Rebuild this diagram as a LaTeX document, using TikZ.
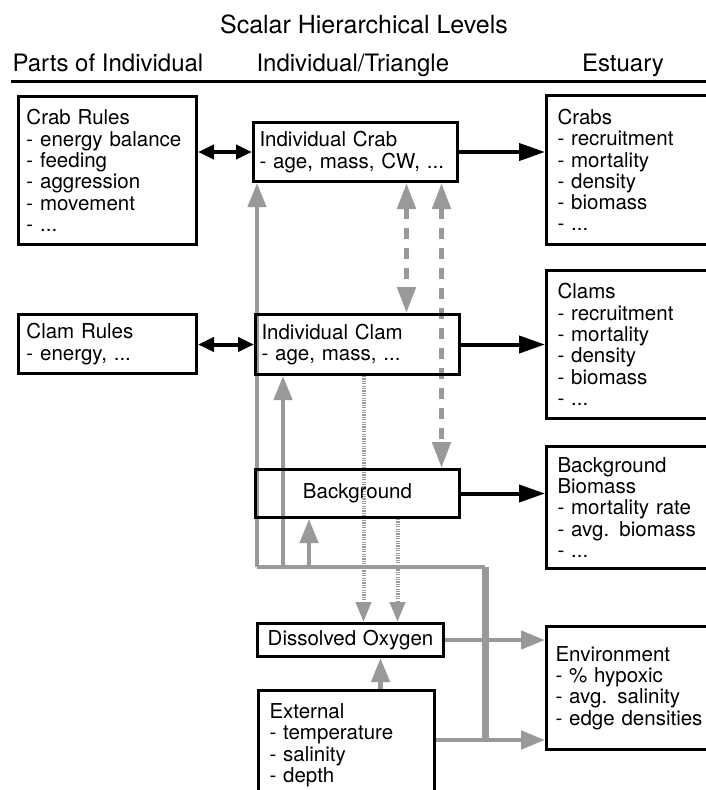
\documentclass[tikz,border=0pt]{standalone}
\usepackage{fontspec}
\setmainfont{TeX Gyre Heros}
\usetikzlibrary{arrows.meta,backgrounds}
\definecolor{linegray}{gray}{0.6}
\newcommand\bodysize{\fontsize{20.5pt}{21.3pt}\selectfont}
\newcommand\headsize{\fontsize{24pt}{26pt}\selectfont}
\tikzset{
  box/.style n args={3}{draw,line width=3pt,anchor=north west,align=left,font=\bodysize,
    inner ysep=0pt,text width=#1,inner xsep=#2,minimum height=#3},
  head/.style={font=\headsize,anchor=base},
  blk/.style={line width=4pt,-{Triangle[length=26pt,width=17pt]}},
  blkdbl/.style={line width=4pt,{Triangle[length=16pt,width=14pt]}-{Triangle[length=16pt,width=14pt]}},
  gry/.style={linegray,line width=4.5pt,-{Triangle[length=24pt,width=18pt]}},
  grybus/.style={linegray,line width=4.5pt},
  grydash/.style={linegray,line width=5pt,dash pattern=on 11pt off 9pt,
    {Triangle[length=26pt,width=18pt]}-{Triangle[length=26pt,width=18pt]}},
  grydot/.style={linegray,line width=4pt,dash pattern=on 1.2pt off 1.2pt,-{Triangle[length=20pt,width=15pt]}}
}
\begin{document}
\begin{tikzpicture}[x=1pt,y=-1pt]
\useasboundingbox (0,0) rectangle (706,790);
\node[head,font=\fontsize{25pt}{27pt}\selectfont] (title) at (364,33) {Scalar Hierarchical Levels};
\node[head,anchor=base west] (hparts) at (9,71) {Parts of Individual};
\node[head,anchor=base west] (hindiv) at (253,71) {Individual/Triangle};
\node[head] (hestuary) at (623,71) {Estuary};
\coordinate (rulel) at (11,81);
\coordinate (ruler) at (706,81);
\draw[line width=3pt] (rulel) -- (ruler);
\node[box={162pt}{8pt}{148pt}] (crabrules) at (17,95) {Crab Rules\\- energy balance\\- feeding\\- aggression\\- movement\\- ...};
\node[box={162pt}{8pt}{59pt}] (clamrules) at (17,313) {Clam Rules\\- energy, ...};
\node[box={192pt}{6pt}{59pt}] (icrab) at (252,121) {Individual Crab\\- age, mass, CW, ...};
\node[box={192pt}{6pt}{60pt}] (iclam) at (254,313) {Individual Clam\\- age, mass, ...};
\node[box={192pt}{6pt}{48pt},align=center] (backgr) at (254,468) {Background};
\node[box={170pt}{8pt}{33pt},align=center] (dissolved) at (256,622) {Dissolved Oxygen};
\node[box={154pt}{11pt}{0pt},inner ysep=13pt,text depth=110pt] (external) at (257,689) {External\\- temperature\\- salinity\\- depth};
\node[box={164pt}{11pt}{149pt}] (crabs) at (545,94) {Crabs\\- recruitment\\- mortality\\- density\\- biomass\\- ...};
\node[box={164pt}{11pt}{148pt}] (clams) at (545,269) {Clams\\- recruitment\\- mortality\\- density\\- biomass\\- ...};
\node[box={164pt}{11pt}{122pt}] (bgbiomass) at (545,445) {Background\\Biomass\\- mortality rate\\- avg. biomass\\- ...};
\node[box={166pt}{9pt}{123pt}] (environ) at (545,625) {Environment\\- \% hypoxic\\- avg. salinity\\- edge densities};
\draw[blkdbl] (icrab.west -| crabrules.east) -- (icrab.west);
\draw[blkdbl] (iclam.west -| clamrules.east) -- (iclam.west);
\draw[blk] (icrab.east) -- (icrab.east -| crabs.west);
\draw[blk] (iclam.east) -- (iclam.east -| clams.west);
\draw[blk] (backgr.east) -- (backgr.east -| bgbiomass.west);
\coordinate (busa) at (257,567);
\coordinate (busb) at (283,567);
\coordinate (busc) at (309,567);
\coordinate (bust) at (485,567);
\coordinate (busx) at (485,740);
\coordinate (linka) at ([xshift=51pt]icrab.south);
\coordinate (linkb) at ([xshift=86pt]icrab.south);
\coordinate (doa) at ([xshift=6pt]iclam.south);
\coordinate (dob) at ([xshift=40pt]iclam.south);
\coordinate (oxin) at ([xshift=30pt]dissolved.south);
\begin{pgfonlayer}{background}
\draw[grybus] (busa) -- (bust);
\draw[grybus,line width=7pt] (bust) -- (busx);
\draw[gry] (busa) -- (busa |- icrab.south);
\draw[gry] (busb) -- (busb |- iclam.south);
\draw[gry] (busc) -- (busc |- backgr.south);
\draw[gry] (busx -| external.east) -- (busx -| environ.west);
\draw[gry] (dissolved.east) -- (dissolved.east -| environ.west);
\draw[gry] (oxin |- external.north) -- (oxin);
\draw[grydash] (linka) -- (linka |- iclam.north);
\draw[grydash] (linkb) -- (linkb |- backgr.north);
\draw[grydot] (doa) -- (doa |- dissolved.north);
\draw[grydot] (dob |- backgr.south) -- (dob |- dissolved.north);
\end{pgfonlayer}
\end{tikzpicture}
\end{document}
